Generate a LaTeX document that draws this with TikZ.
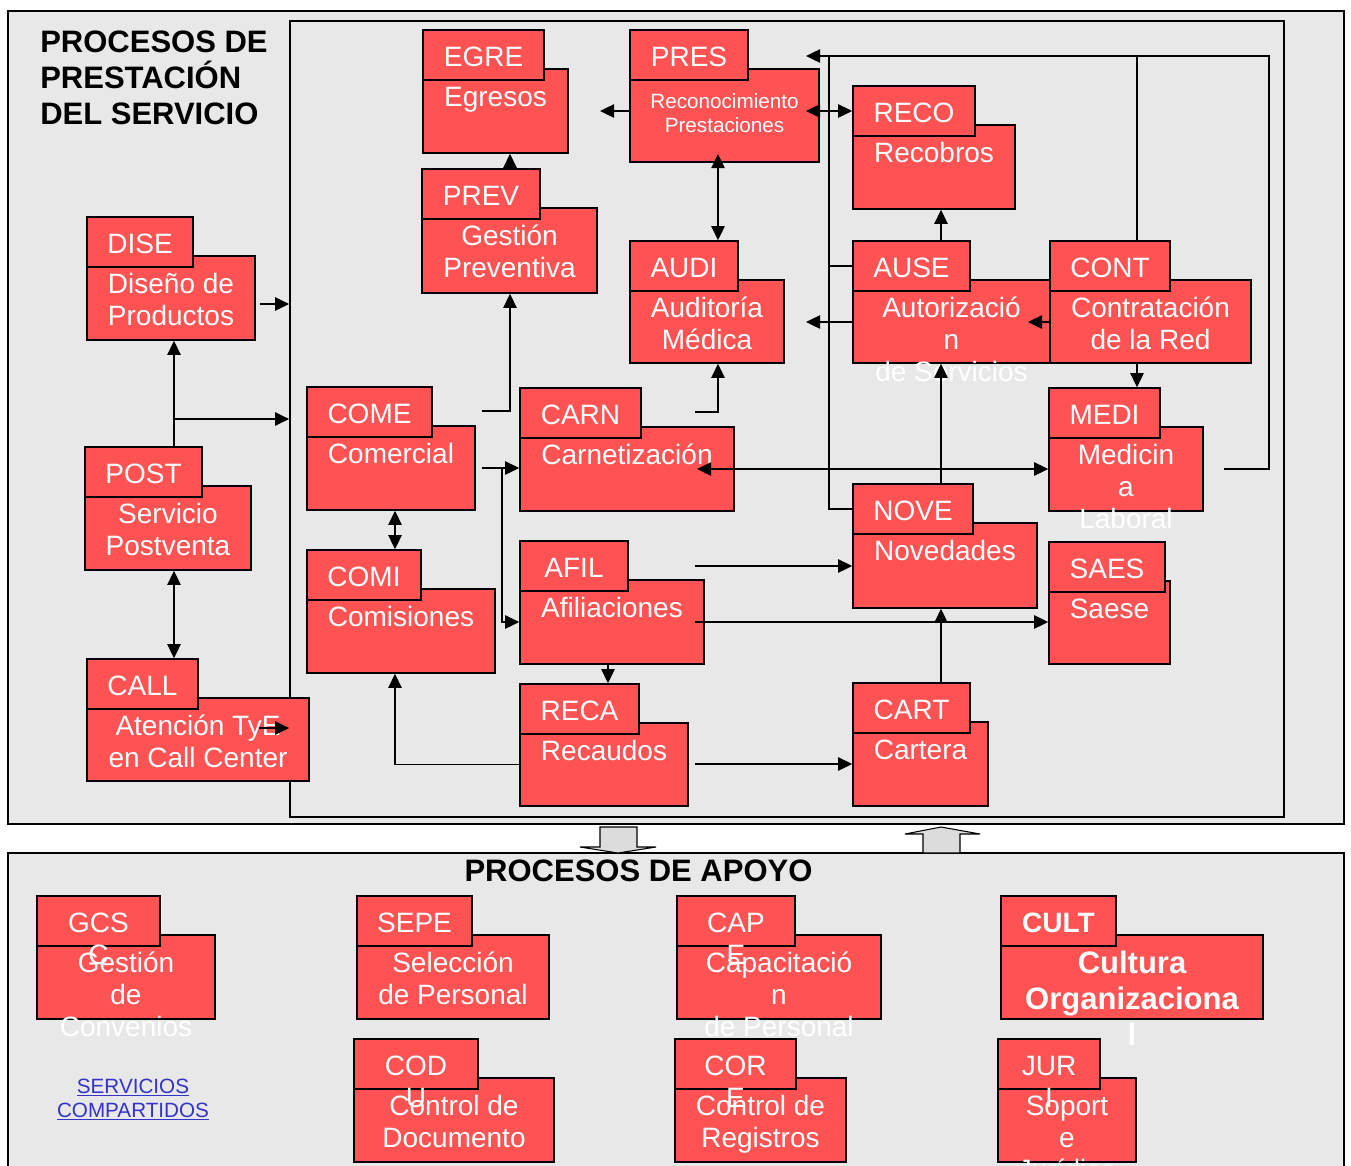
\documentclass[tikz,border=0pt]{standalone}
\usepackage{fontspec}
\setmainfont{Liberation Sans}
\usetikzlibrary{arrows.meta,fit}

\definecolor{procred}{RGB}{255,82,82}
\definecolor{panelgray}{RGB}{232,232,232}
\definecolor{blockgray}{RGB}{220,220,220}
\definecolor{linkblue}{RGB}{51,51,204}

\newcommand{\labelfont}{\fontsize{21pt}{24pt}\selectfont}
\newcommand{\smalllabelfont}{\fontsize{15.5pt}{17.6pt}\selectfont}
\newcommand{\cultfont}{\fontsize{23.25pt}{27pt}\selectfont\bfseries}
\newcommand{\headfont}{\fontsize{23.25pt}{26.8pt}\selectfont\bfseries}
\newcommand{\linkfont}{\fontsize{15.5pt}{17.8pt}\selectfont}
% height-only strut, so the first line sits at a fixed depth below the node top
\newcommand{\htstrut}{\rule{0pt}{0.7\baselineskip}}

% one process: body, tab on top of it, code in the tab, name in the body
% [label options]{name}{left}{tab top}{tab right}{body right}{body bottom}{code}{label}
\newcommand{\procbox}[9][]{%
  \node[procbody, fit={(#3,{#4+39}) (#6,#7)}] (#2) {};
  \node[proctab, fit={(#3,#4) (#5,{#4+50})}] (#2-tab) {};
  \node[codetext] (#2-code) at ({(#3+#5)/2},{#4+13.6}) {\htstrut #8};
  \node[labeltext, #1] (#2-label) at ({(#3+#6)/2},{#4+53.6}) {\htstrut #9};
}

\begin{document}
\begin{tikzpicture}[x=0.75pt,y=-0.75pt,
  panel/.style={draw=black, fill=panelgray, line width=1.5pt, inner sep=0pt},
  frame/.style={draw=black, line width=1.3pt, inner sep=0pt},
  procbody/.style={draw=black, fill=procred, line width=1.2pt, inner sep=0pt},
  proctab/.style={draw=black, fill=procred, line width=1.2pt, inner sep=0pt},
  codetext/.style={text=white, font=\labelfont, align=center, anchor=north, inner sep=0pt},
  labeltext/.style={text=white, font=\labelfont, align=center, anchor=north, inner sep=0pt},
  arr/.style={-{Triangle[length=10.5pt,width=10pt]}, line width=1pt},
  darr/.style={{Triangle[length=10.5pt,width=10pt]}-{Triangle[length=10.5pt,width=10pt]}, line width=1pt},
  plain/.style={line width=1pt},
  blockarrow/.style={draw=black, fill=blockgray, line width=0.8pt}]

\useasboundingbox (0,0) rectangle (1351,1165);
\clip (0,0) rectangle (1351,1165);
\fill[white] (0,0) rectangle (1351,1165);

% panels
\node[panel, fit={(8,11) (1344,824)}] (prestacion) {};
\node[frame, fit={(290,21) (1284,817)}] (inner) {};
\node[panel, fit={(8,853) (1344,1210)}] (apoyo) {};

\node[font=\headfont, align=left, anchor=north west, inner sep=0pt] (title-prest)
  at (40,27.7) {\htstrut PROCESOS DE\\PRESTACIÓN\\DEL SERVICIO};
\node[font=\headfont, anchor=base, inner sep=0pt] (title-apoyo)
  at (638.5,881.7) {PROCESOS DE APOYO};

% block arrows between the panels
\filldraw[blockarrow] (600,827) -- (637,827) -- (637,847) -- (656,847) -- (618,853)
  -- (580,847) -- (600,847) -- cycle;
\filldraw[blockarrow] (923,853) -- (960,853) -- (960,834) -- (980,834) -- (941,827)
  -- (905,834) -- (923,834) -- cycle;

% service delivery processes
\procbox{dise}{87}{217}{193}{255}{340}{DISE}{Diseño de\\Productos}
\procbox{post}{85}{447}{202}{251}{570}{POST}{Servicio\\Postventa}
\procbox{call}{87}{659}{198}{309}{781}{CALL}{Atención TyE\\en Call Center}
\procbox{egre}{423}{30}{544}{568}{153}{EGRE}{Egresos}
\procbox{prev}{422}{169}{540}{597}{293}{PREV}{Gestión\\Preventiva}
\procbox[font=\smalllabelfont, yshift=-6.2pt]{pres}{630}{30}{748}{819}{162}{PRES}{Reconocimiento\\Prestaciones}
\procbox{audi}{630}{241}{738}{784}{363}{AUDI}{Auditoría\\Médica}
\procbox{reco}{853}{86}{975}{1015}{209}{RECO}{Recobros}
\procbox{ause}{853}{241}{970}{1050}{363}{AUSE}{Autorizació\\n\\de Servicios}
\procbox{cont}{1050}{241}{1170}{1251}{363}{CONT}{Contratación\\de la Red}
\procbox{come}{307}{387}{432}{475}{510}{COME}{Comercial}
\procbox{comi}{307}{550}{421}{495}{673}{COMI}{Comisiones}
\procbox{carn}{520}{388}{641}{734}{511}{CARN}{Carnetización}
\procbox{afil}{520}{541}{628}{704}{664}{AFIL}{Afiliaciones}
\procbox{reca}{520}{684}{639}{688}{806}{RECA}{Recaudos}
\procbox{nove}{853}{484}{973}{1037}{608}{NOVE}{Novedades}
\procbox{medi}{1049}{388}{1160}{1203}{511}{MEDI}{Medicin\\a\\Laboral}
\procbox{saes}{1049}{542}{1165}{1170}{664}{SAES}{Saese}
\procbox{cart}{853}{683}{970}{988}{806}{CART}{Cartera}

% support processes
\procbox{gcsc}{37}{896}{160}{215}{1019}{GCS\\C}{Gestión\\de\\Convenios}
\procbox{sepe}{357}{896}{472}{549}{1019}{SEPE}{Selección\\de Personal}
\procbox{codu}{354}{1039}{478}{554}{1162}{COD\\U}{Control de\\Documento}
\procbox{cape}{677}{896}{795}{881}{1019}{CAP\\E}{Capacitació\\n\\de Personal}
\procbox[font=\cultfont, yshift=1.35pt]{cult}{1001}{896}{1116}{1263}{1019}{\textbf{CULT}}{Cultura\\Organizaciona\\l}
\procbox{core}{675}{1039}{796}{846}{1162}{COR\\E}{Control de\\Registros}
\procbox{juri}{998}{1039}{1100}{1136}{1162}{JUR\\I}{Soport\\e\\Jurídico}

\node[font=\linkfont, text=linkblue, align=center, anchor=north, inner sep=0pt] (shared)
  at (133,1076.4) {\htstrut\underline{SERVICIOS}\\\underline{COMPARTIDOS}};

% junction points and free ends
\coordinate (dise-x) at (174,0);
\coordinate (dise-out) at (260,304);
\coordinate (post-j) at (174,419);
\coordinate (call-out) at (259,728);
\coordinate (prev-x) at (510,0);
\coordinate (come-out1) at (482,411);
\coordinate (come-out2) at (482,468);
\coordinate (come-j) at (502,468);
\coordinate (come-x) at (395,0);
\coordinate (pres-y) at (0,111);
\coordinate (egre-in) at (600,111);
\coordinate (pres-in) at (806,111);
\coordinate (audi-x) at (718,0);
\coordinate (pres-low) at (718,154);
\coordinate (carn-out1) at (695,412);
\coordinate (carn-in) at (697,469);
\coordinate (afil-x) at (608,0);
\coordinate (afil-out1) at (695,566);
\coordinate (afil-out2) at (695,622);
\coordinate (reca-out) at (695,764);
\coordinate (nove-x) at (941,0);
\coordinate (cont-x) at (1137,0);
\coordinate (cont-y) at (0,322);
\coordinate (ause-in) at (1028,322);
\coordinate (ause-out) at (806,322);
\coordinate (bus-top) at (806,56);
\coordinate (bus-x) at (829,0);
\coordinate (loop-c) at (1269,56);
\coordinate (medi-out) at (1224,469);

% connectors
\draw[arr] (dise-out) -- (inner.west |- dise-out);
\draw[arr] (post-tab.north -| dise-x) -- (dise.south -| dise-x);
\draw[arr] (post-j) -- (inner.west |- post-j);
\draw[darr] (post.south -| dise-x) -- (call-tab.north -| dise-x);
\draw[arr] (call-out) -- (inner.west |- call-out);

\draw[arr] (prev-tab.north -| prev-x) -- (egre.south -| prev-x);
\draw[arr] (come-out1) -| (prev.south -| prev-x);
\draw[arr] (pres.west |- pres-y) -- (egre-in);
\draw[darr] (pres-in) -- (reco-tab.west |- pres-y);
\draw[darr] (pres-low) -- (audi-tab.north -| audi-x);
\draw[arr] (carn-out1) -| (audi.south -| audi-x);

\draw[plain] (come-out2) -- (come-j);
\draw[arr] (come-j) -- (carn.west |- come-j);
\draw[arr] (come-j) |- (afil.west);
\draw[darr] (come.south -| come-x) -- (comi-tab.north -| come-x);
\draw[arr] (reca.west) -| (comi.south -| come-x);
\draw[arr] (afil.south -| afil-x) -- (reca-tab.north -| afil-x);
\draw[arr] (reca-out) -- (cart.west |- reca-out);
\draw[arr] (afil-out1) -- (nove.west |- afil-out1);
\draw[arr] (afil-out2) -- (saes.west |- afil-out2);

\draw[arr] (cart-tab.north -| nove-x) -- (nove.south -| nove-x);
\draw[arr] (nove-tab.north -| nove-x) -- (ause.south -| nove-x);
\draw[arr] (ause-tab.north -| nove-x) -- (reco.south -| nove-x);
\draw[darr] (carn-in) -- (medi.west |- carn-in);
\draw[arr] (cont.south -| cont-x) -- (medi-tab.north -| cont-x);
\draw[arr] (cont.west |- cont-y) -- (ause-in);
\draw[arr] (ause.west |- cont-y) -- (ause-out);

\draw[arr] (cont-tab.north -| cont-x) |- (bus-top);
\draw[plain] (medi-out) -| (loop-c) -- (cont-x |- loop-c);
\draw[plain] (nove-tab.west) -| (bus-x |- bus-top);
\draw[plain] (ause-tab.west) -- (bus-x |- ause-tab.west);

\end{tikzpicture}
\end{document}
